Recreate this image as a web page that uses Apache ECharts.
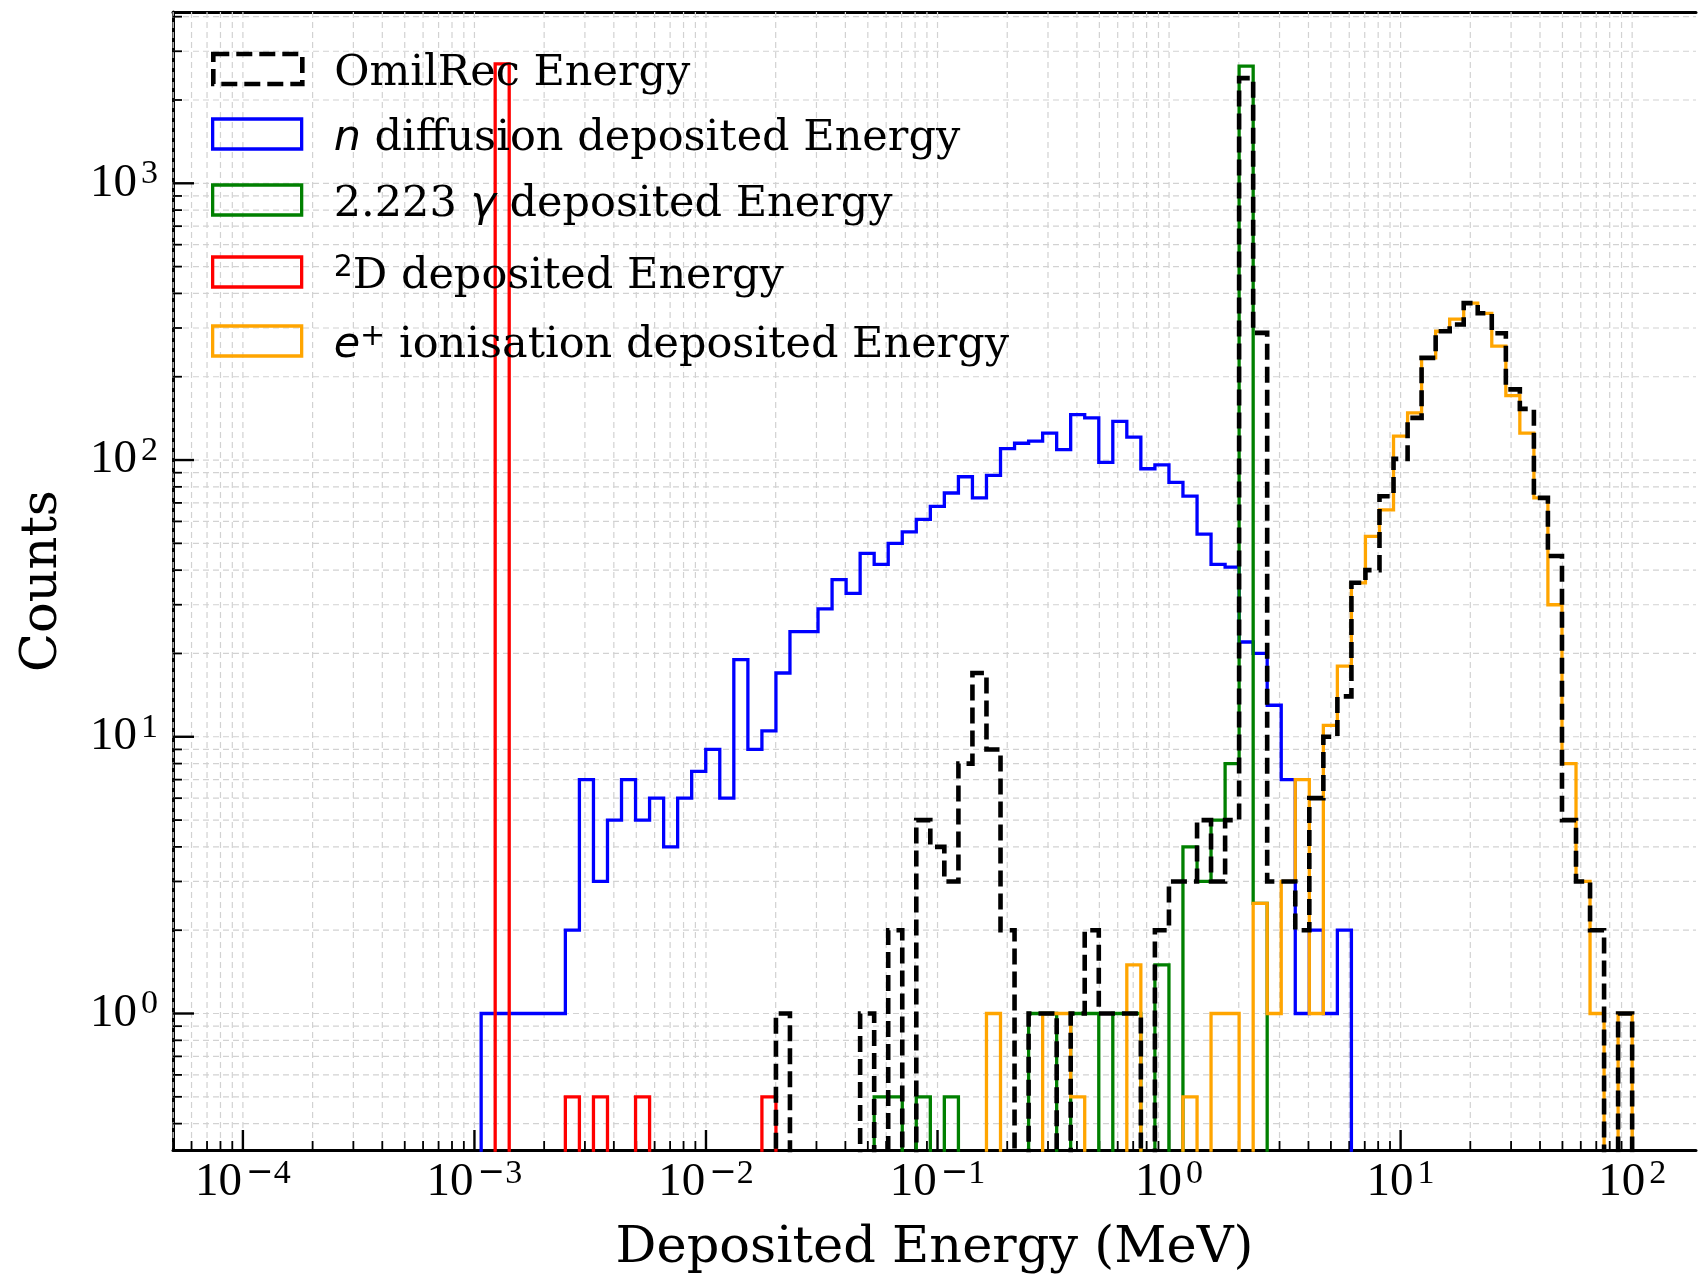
<!DOCTYPE html>
<html><head><meta charset="utf-8">
<script src="https://cdn.jsdelivr.net/npm/echarts@6/dist/echarts.min.js"></script>
<style>html,body{margin:0;padding:0;background:#fff}#c{width:1699px;height:1279px}</style>
</head><body><div id="c"></div>
<script>
// ---- data ----
// log-spaced bin edges shared by all histograms (83 edges -> 82 bins)
const binEdges = [0.001069, 0.001229, 0.001413, 0.001625, 0.001869, 0.002149, 0.002470, 0.002840, 0.003266, 0.003755,
  0.004317, 0.004964, 0.005707, 0.006562, 0.007544, 0.008674, 0.009977, 0.01147, 0.01319, 0.01517,
  0.01744, 0.02005, 0.02305, 0.02650, 0.03047, 0.03504, 0.04029, 0.04632, 0.05326, 0.06124,
  0.07042, 0.08096, 0.09309, 0.1070, 0.1231, 0.1415, 0.1627, 0.1871, 0.2151, 0.2474,
  0.2844, 0.3270, 0.3759, 0.4322, 0.4971, 0.5715, 0.6569, 0.7553, 0.8686, 0.9988,
  1.148, 1.321, 1.518, 1.746, 2.007, 2.308, 2.653, 3.051, 3.508, 4.034,
  4.638, 5.332, 6.131, 7.048, 8.106, 9.320, 10.72, 12.32, 14.17, 16.29,
  18.73, 21.53, 24.76, 28.48, 32.73, 37.64, 43.27, 49.77, 57.22, 65.79,
  75.64, 86.97, 100.0];

const omilRecCounts = [0,0,0,0,0,0,0,0,0,0,
  0,0,0,0,0,0,0,0,0,0,
  0,1,0,0,0,0,0,1,0,2,
  0,5,4,3,8,17,9,2,0,1,
  1,0,1,2,1,1,1,0,2,3,
  3,5,3,5,2400,288,3,3,2,6,
  10,14,36,40,74,101,142,234,292,309,
  369,339,287,180,153,73,45,5,3,2,
  0,1];

const nDiffusionCounts = [1,1,1,1,1,1,2,7,3,5,
  7,5,6,4,6,7.5,9,6,19,9,
  10.5,17,24,24,29,37,33,46,42,50,
  55,61,68,76,87,73,88,110,115,117,
  125,109,146,142,98,138,121,93,96,83,
  74,54,42,41,22,20,13,7,1,2,
  1,2,0,0,0,0,0,0,0,0,
  0,0,0,0,0,0,0,0,0,0,
  0,0];

const gammaCounts = [0,0,0,0,0,0,0,0,0,0,
  0,0,0,0,0,0,0,0,0,0,
  0,0,0,0,0,0,0,0,0.5,0.5,
  0,0.5,0,0.5,0,0,0,0,0,1,
  1,0,1,1,0,1,1,0,1.5,0,
  4,3,5,8,2650,2.5,0,0,0,0,
  0,0,0,0,0,0,0,0,0,0,
  0,0,0,0,0,0,0,0,0,0,
  0,0];

const deuteronCounts = [0,2700,0,0,0,0,0.5,0,0.5,0,
  0,0.5,0,0,0,0,0,0,0,0,
  0.5,0,0,0,0,0,0,0,0,0,
  0,0,0,0,0,0,0,0,0,0,
  0,0,0,0,0,0,0,0,0,0,
  0,0,0,0,0,0,0,0,0,0,
  0,0,0,0,0,0,0,0,0,0,
  0,0,0,0,0,0,0,0,0,0,
  0,0];

const positronCounts = [0,0,0,0,0,0,0,0,0,0,
  0,0,0,0,0,0,0,0,0,0,
  0,0,0,0,0,0,0,0,0,0,
  0,0,0,0,0,0,1,0,0,0,
  1,1,0.5,0,0,0,1.5,0,0,0,
  0.5,0,1,1,0,2.5,1,3,7,1,
  11,18,36,53,66,122,148,234,292,323,
  369,339,258,171,125,73,30,8,3,1,
  0,1];

const seriesNames = ['OmilRec Energy', 'n diffusion deposited Energy', '2.223 γ deposited Energy',
  '2D deposited Energy', 'e+ ionisation deposited Energy'];
const legendLabels = ['OmilRec Energy', '{mi|n} diffusion deposited Energy', '2.223 {mi|γ} deposited Energy',
  '{sup|2}D deposited Energy', '{mi|e}{sup|+} ionisation deposited Energy'];
const xAxisTitle = 'Deposited Energy (MeV)';
const yAxisTitle = 'Counts';

// ---- chart ----
const X_MIN = 4.99e-5, X_MAX = 188.7, Y_MIN = 0.3212, Y_MAX = 4159;
const FLOOR = 0.01; // empty bins drawn below the axis floor
const GRID_COLOR = '#d2d2d2';

function stepPoints(counts) {
  const pts = [[binEdges[0], FLOOR]];
  for (let i = 0; i < counts.length; i++) pts.push([binEdges[i], counts[i] > 0 ? counts[i] : FLOOR]);
  pts.push([binEdges[counts.length], FLOOR]);
  return pts;
}
function logTicks(lo, hi) {
  const out = [];
  for (let k = Math.floor(Math.log10(lo)) - 1; k <= Math.ceil(Math.log10(hi)); k++) {
    for (let m = 1; m <= 9; m++) {
      const v = m * Math.pow(10, k);
      if (v > lo * 1.0001 && v < hi * 0.9999) out.push([v, m === 1 ? 1 : 0]);
    }
  }
  return out;
}
function powLabel(value) {
  const l = Math.log10(value);
  const e = Math.round(l);
  if (Math.abs(l - e) > 1e-6) return '';
  return e < 0 ? '{b|10}{m|\u2212}{s|' + (-e) + '}' : '{b|10}{p|' + e + '}';
}
const labelRich = {
  b: {fontFamily: 'Liberation Serif', fontSize: 47, lineHeight: 52, color: '#000'},
  m: {fontFamily: 'DejaVu Sans', fontSize: 33, lineHeight: 32, verticalAlign: 'top', color: '#000', padding: [0, 0, 0, 4]},
  s: {fontFamily: 'Liberation Serif', fontSize: 34, lineHeight: 32, verticalAlign: 'top', color: '#000'},
  p: {fontFamily: 'Liberation Serif', fontSize: 34, lineHeight: 32, verticalAlign: 'top', color: '#000', padding: [0, 0, 0, 4]}
};

const histStyles = [
  {data: nDiffusionCounts, name: seriesNames[1], color: '#0000ff', width: 3.3, type: 'solid'},
  {data: gammaCounts, name: seriesNames[2], color: '#008000', width: 3.3, type: 'solid'},
  {data: deuteronCounts, name: seriesNames[3], color: '#ff0000', width: 3.3, type: 'solid'},
  {data: positronCounts, name: seriesNames[4], color: '#ffa500', width: 3.3, type: 'solid'},
  {data: omilRecCounts, name: seriesNames[0], color: '#000000', width: 4.6, type: [16, 7]}
];

const series = [];
series.push({
  type: 'custom', name: 'xgrid', z: 1, silent: true,
  dimensions: ['v', 'y', 'major'], encode: {x: 0, y: 1},
  data: logTicks(X_MIN, X_MAX).map(t => [t[0], 1, t[1]]),
  renderItem: function (params, api) {
    const cs = params.coordSys;
    const x = api.coord([api.value(0), 1])[0];
    const major = api.value(2) === 1;
    const bottom = cs.y + cs.height;
    return {type: 'group', children: [
      {type: 'line', shape: {x1: x, y1: cs.y, x2: x, y2: bottom}, style: {stroke: GRID_COLOR, lineWidth: 1.2, lineDash: [6, 4]}},
      {type: 'line', shape: {x1: x, y1: bottom, x2: x, y2: bottom - (major ? 20 : 9)}, style: {stroke: '#000', lineWidth: major ? 2.4 : 1.8}}
    ]};
  }
});
series.push({
  type: 'custom', name: 'ygrid', z: 1, silent: true,
  dimensions: ['x', 'v', 'major'], encode: {x: 0, y: 1},
  data: logTicks(Y_MIN, Y_MAX).map(t => [1, t[0], t[1]]),
  renderItem: function (params, api) {
    const cs = params.coordSys;
    const y = api.coord([1, api.value(1)])[1];
    const major = api.value(2) === 1;
    return {type: 'group', children: [
      {type: 'line', shape: {x1: cs.x, y1: y, x2: cs.x + cs.width, y2: y}, style: {stroke: GRID_COLOR, lineWidth: 1.2, lineDash: [6, 4]}},
      {type: 'line', shape: {x1: cs.x, y1: y, x2: cs.x + (major ? 21 : 9), y2: y}, style: {stroke: '#000', lineWidth: major ? 2.4 : 1.8}}
    ]};
  }
});
histStyles.forEach(h => series.push({
  type: 'line', name: h.name, step: 'end', data: stepPoints(h.data),
  symbol: 'none', showSymbol: false, clip: true, z: 3,
  itemStyle: {color: h.color},
  lineStyle: {color: h.color, width: h.width, type: h.type, join: 'miter'}
}));

const legendTops = [69, 134, 200, 272, 341];
const legendColors = ['#000000', '#0000ff', '#008000', '#ff0000', '#ffa500'];
const legends = seriesNames.map((nm, i) => ({
  orient: 'vertical', left: 211, top: legendTops[i] - 29, padding: 0,
  selectedMode: false, itemWidth: 89, itemHeight: 30,
  data: [{name: nm, icon: 'rect', itemStyle: {
    color: 'rgba(0,0,0,0)', borderColor: legendColors[i], borderWidth: i === 0 ? 4.6 : 3.3,
    borderType: i === 0 ? [16, 7] : 'solid', opacity: 1}}],
  formatter: () => legendLabels[i],
  textStyle: {
    fontFamily: 'DejaVu Serif', fontSize: 43, lineHeight: 48, color: '#000', padding: [10, 0, 0, 27],
    rich: {
      mi: {fontFamily: 'DejaVu Sans', fontStyle: 'italic', fontSize: 43, lineHeight: 48, color: '#000'},
      sup: {fontFamily: 'DejaVu Sans', fontSize: 30, lineHeight: 31, verticalAlign: 'top', color: '#000'}
    }
  }
}));

const spine = {show: true, onZero: false, lineStyle: {color: '#000', width: 3}};
const chart = echarts.init(document.getElementById('c'), null, {renderer: 'canvas'});
chart.setOption({
  animation: false,
  backgroundColor: '#ffffff',
  grid: {left: 173, top: 12, right: 0, bottom: 125, show: false},
  legend: legends,
  xAxis: [{
    type: 'log', logBase: 10, min: X_MIN, max: X_MAX, position: 'bottom',
    axisLine: spine, axisTick: {show: false}, splitLine: {show: false},
    axisLabel: {formatter: powLabel, rich: labelRich, margin: 7},
    name: xAxisTitle, nameLocation: 'middle', nameGap: 73,
    nameTextStyle: {fontFamily: 'DejaVu Serif', fontSize: 51, color: '#000'}
  }, {
    type: 'log', logBase: 10, min: X_MIN, max: X_MAX, position: 'top',
    axisLine: spine, axisTick: {show: false}, splitLine: {show: false}, axisLabel: {show: false}
  }],
  yAxis: {
    type: 'log', logBase: 10, min: Y_MIN, max: Y_MAX,
    axisLine: spine, axisTick: {show: false}, splitLine: {show: false},
    axisLabel: {formatter: powLabel, rich: labelRich, margin: 15},
    name: yAxisTitle, nameLocation: 'middle', nameGap: 105,
    nameTextStyle: {fontFamily: 'DejaVu Serif', fontSize: 51, color: '#000'}
  },
  series: series
});
</script>
</body></html>
